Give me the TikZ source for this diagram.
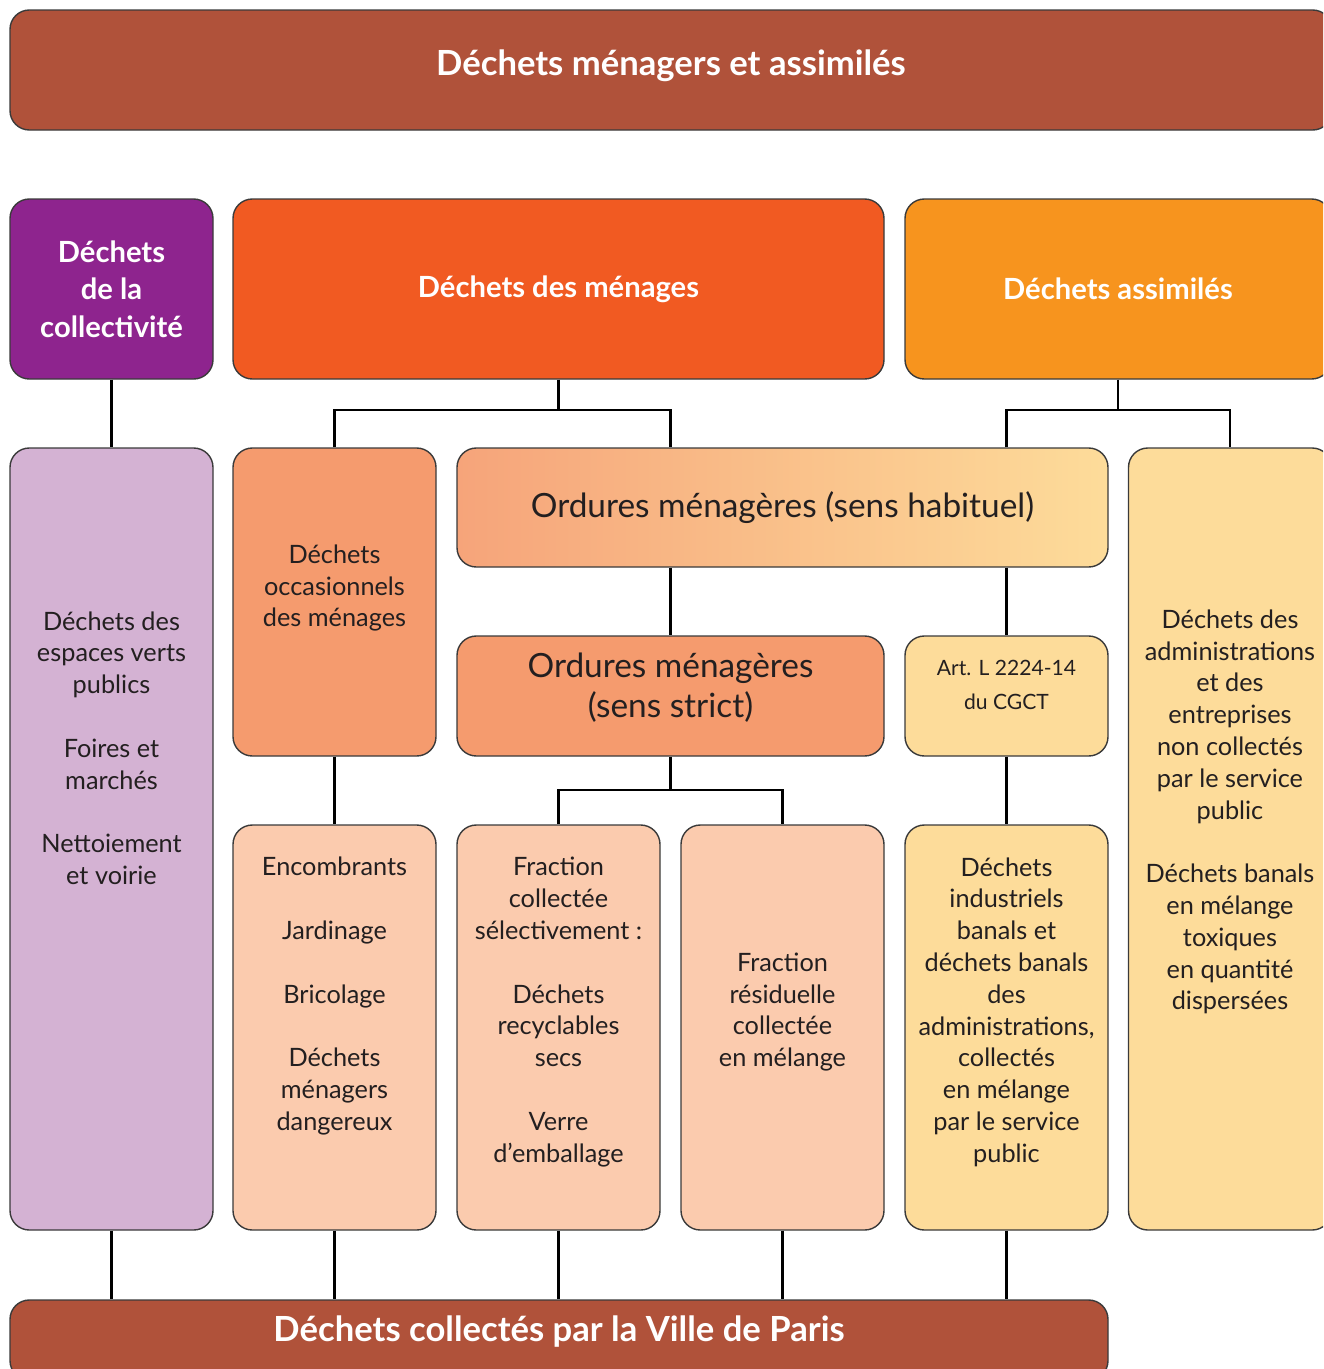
\documentclass[tikz,border=0pt]{standalone}
\usepackage{fontspec}
\setmainfont{Lato}
\usetikzlibrary{positioning}
\definecolor{ink}{HTML}{231F20}
\definecolor{edge}{HTML}{3A3A3A}
\definecolor{brick}{HTML}{B0523A}
\definecolor{plum}{HTML}{8E248E}
\definecolor{flame}{HTML}{F15A22}
\definecolor{amber}{HTML}{F7941E}
\definecolor{lilac}{HTML}{D4B2D3}
\definecolor{salmon}{HTML}{F59B6E}
\definecolor{peach}{HTML}{FBCBAE}
\definecolor{cream}{HTML}{FDDC9A}
\definecolor{apricot}{HTML}{F6A47A}
\tikzset{
  box/.style={draw=edge, line width=0.8pt, rounded corners=11pt, inner sep=0pt},
  pxsize/.style 2 args={minimum width=#1*0.02cm, minimum height=#2*0.02cm},
  head/.style={text=white, align=center, font=\bfseries\fontsize{16.6}{21.3}\selectfont},
  title/.style={text=white, font=\bfseries\fontsize{19.7}{22}\selectfont},
  txt/.style={text=ink, align=center, font=\fontsize{14.4}{18.1}\selectfont},
  big/.style={text=ink, align=center, font=\fontsize{19}{22.7}\selectfont},
  link/.style={draw=black, line width=1.2pt},
}
\newcommand{\gap}{\\[18.1pt]}

\begin{document}
\begin{tikzpicture}[x=0.02cm, y=-0.02cm]
    \clip (0,0) rectangle (1323,1369);
    % bandeaux
    \node[box, fill=brick, pxsize={1322}{120}] (header) at (671,70) {};
    \node[title] (header-t) at (671,66) {Déchets ménagers et assimilés};
    \node[box, fill=brick, pxsize={1098}{80}] (paris) at (559,1340) {};
    \node[title] (paris-t) at (559,1332) {Déchets collectés par la Ville de Paris};

    % familles
    \node[box, fill=plum, pxsize={203}{180}, head] (coll) at (111.5,289) {Déchets\\de la\\collectivité};
    \node[box, fill=flame, pxsize={651}{180}, head] (menages) at (558.5,289) {Déchets des ménages};
    \node[box, fill=amber, pxsize={426}{180}, head] (assim) at (1118,289) {Déchets assimilés};

    % colonnes
    \node[box, fill=lilac, pxsize={203}{782}] (verts) at (111.5,839) {};
    \node[txt] at (111.5,748) {Déchets des\\espaces verts\\publics\gap Foires et\\marchés\gap Nettoiement\\et voirie};
    \node[box, fill=salmon, pxsize={203}{308}] (occas) at (334.5,602) {};
    \node[txt] at (334.5,588) {Déchets\\occasionnels\\des ménages};
    \node[box, left color=apricot, right color=cream, pxsize={651}{119}, big] (habituel) at (782.5,507.5) {Ordures ménagères (sens habituel)};
    \node[box, fill=cream, pxsize={203}{782}] (admin) at (1230,839) {};
    \node[txt] at (1230,812) {Déchets des\\administrations\\et des\\entreprises\\non collectés\\par le service\\public\gap Déchets banals\\en mélange\\toxiques\\en quantité\\dispersées};

    \node[box, fill=salmon, pxsize={427}{120}] (strict) at (670.5,696) {};
    \node[big] at (670.5,688) {Ordures ménagères\\(sens strict)};
    \node[box, fill=cream, pxsize={203}{120}] (art) at (1006.5,696) {};
    \node[text=ink, align=center, font=\fontsize{12}{19.8}\selectfont] at (1006.5,685) {Art. L 2224-14\\du CGCT};

    \node[box, fill=peach, pxsize={203}{405}] (encomb) at (334.5,1027.5) {};
    \node[txt] at (334.5,996) {Encombrants\gap Jardinage\gap Bricolage\gap Déchets\\ménagers\\dangereux};
    \node[box, fill=peach, pxsize={203}{405}] (select) at (558.5,1027.5) {};
    \node[txt] at (558.5,1012) {Fraction\\collectée\\sélectivement :\gap Déchets\\recyclables\\secs\gap Verre\\d’emballage};
    \node[box, fill=peach, pxsize={203}{405}] (residu) at (782.5,1027.5) {};
    \node[txt] at (782.5,1012) {Fraction\\résiduelle\\collectée\\en mélange};
    \node[box, fill=cream, pxsize={203}{405}] (indus) at (1006.5,1027.5) {};
    \node[txt] at (1006.5,1012) {Déchets\\industriels\\banals et\\déchets banals\\des\\administrations,\\collectés\\en mélange\\par le service\\public};

    % liaisons
    \draw[link] (coll) -- (verts);
    \draw[link] (menages.south) -- ++(0,30) coordinate (mj);
    \draw[link] (occas.north) |- (mj) -| (strict.north |- habituel.north);
    \draw[link] (assim.south) -- ++(0,30) coordinate (aj);
    \draw[link] (art.north |- habituel.north) |- (aj) -| (admin.north);
    \draw[link] (strict.north |- habituel.south) -- (strict.north);
    \draw[link] (art.north |- habituel.south) -- (art.north);
    \draw[link] (occas) -- (encomb);
    \draw[link] (strict.south) -- ++(0,33) coordinate (sj);
    \draw[link] (select.north) |- (sj) -| (residu.north);
    \draw[link] (art) -- (indus);
    \foreach \col in {verts, encomb, select, residu, indus}
      \draw[link] (\col.south) -- (\col.south |- paris.north);
\end{tikzpicture}
\end{document}
